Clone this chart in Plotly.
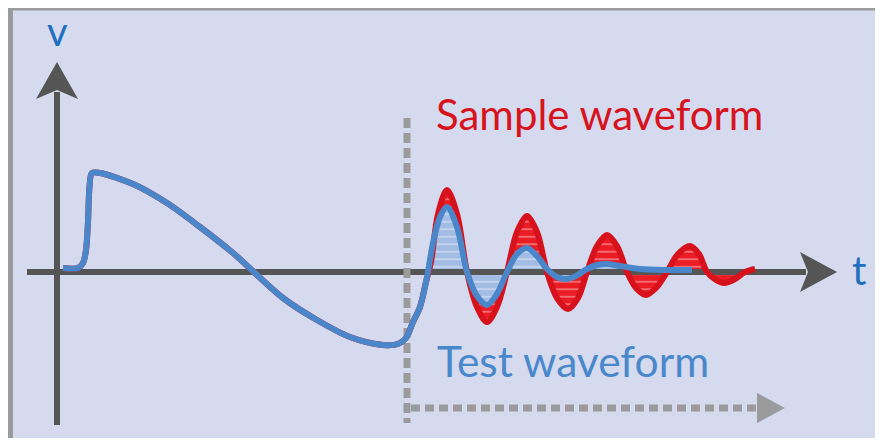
import numpy as np
import plotly.graph_objects as go

# shared start of both waveforms (t, v), v = 0 on the time axis
t_shared = [63, 78, 83, 86, 88, 89.5, 92, 100, 133, 167, 200, 233, 283, 317, 350, 383, 398, 406, 413, 420]
v_shared = [4, 4, 9, 22, 50, 85, 99, 99, 88, 69, 45, 19, -26, -48, -65, -73, -72, -66, -50, -35]

# sample waveform (red) after the trigger
t_sample = [426, 431, 438, 447, 457, 467, 477, 487, 497, 507, 517, 527, 537, 547, 557, 568, 578, 587,
            597, 607, 617, 627, 636, 646, 656, 667, 678, 690, 699, 707, 716, 724, 735, 745, 755]
v_sample = [-10, 10, 58, 82, 58, 0, -35, -50, -35, 0, 40, 56, 40, 0, -26, -37, -26, 0,
            26, 37, 26, 0, -16, -23, -16, 0, 18, 26, 18, 0, -8, -11, -7, 0, 3]

# test waveform (blue) after the trigger
t_test = [427, 433, 440, 447, 457, 467, 477, 487, 497, 507, 517, 527, 537, 547, 557, 566, 576, 587,
          597, 607, 620, 640, 665, 692]
v_test = [-5, 29, 55, 65, 45, 0, -24, -33, -22, 0, 18, 24, 16, 3, -5, -7, -4, 3,
          7, 8, 6, 3, 2, 2]

RED_LINE = "#D8121C"
RED_FILL = "#EA1C24"
BLUE_LINE = "#4A86CA"
BLUE_FILL = "#A2BCE4"
AXIS = "#555555"
GUIDE = "#9B9B9D"
PANEL = "#D5DAEE"

# the page body keeps an 8px margin, so the figure starts at (8, 8)
OFFSET = 8
W, H = 883 - OFFSET, 446 - 2 * OFFSET


def py(y_px):
    # picture rows -> v units (time axis sits on row 272)
    return 272 - y_px


red_t = np.array(t_shared + t_sample)
red_v = np.array(v_shared + v_sample)
blue_t = np.array(t_shared + t_test)
blue_v = np.array(v_shared + v_test)

red_mask = red_t >= 431
blue_mask = blue_t >= 427

fig = go.Figure()

# filled areas between waveform and axis
fig.add_trace(go.Scatter(
    x=np.r_[430, red_t[red_mask]], y=np.r_[0, red_v[red_mask]], mode="lines",
    line=dict(width=0, shape="spline", smoothing=0.9), fill="tozeroy",
    fillpattern=dict(shape="-", bgcolor=RED_FILL, fgcolor="white", size=7.5, solidity=0.18),
    hoverinfo="skip"))
fig.add_trace(go.Scatter(
    x=np.r_[428, blue_t[blue_mask]], y=np.r_[0, blue_v[blue_mask]], mode="lines",
    line=dict(width=0, shape="spline", smoothing=0.9), fill="tozeroy",
    fillpattern=dict(shape="-", bgcolor=BLUE_FILL, fgcolor="white", size=7.5, solidity=0.18),
    hoverinfo="skip"))

# time axis and trigger line (drawn over the fills, under the curves)
fig.add_trace(go.Scatter(x=[27, 806], y=[0, 0], mode="lines",
                         line=dict(color=AXIS, width=6), hoverinfo="skip"))
fig.add_trace(go.Scatter(x=[407, 407], y=[py(118), py(423)], mode="lines",
                         line=dict(color=GUIDE, width=7, dash="10px,5px"), hoverinfo="skip"))
fig.add_trace(go.Scatter(x=[411, 760], y=[py(408), py(408)], mode="lines",
                         line=dict(color=GUIDE, width=7, dash="9px,5px"), hoverinfo="skip"))

# waveforms
fig.add_trace(go.Scatter(x=red_t, y=red_v, mode="lines",
                         line=dict(color=RED_LINE, width=6, shape="spline", smoothing=0.9),
                         hoverinfo="skip"))
fig.add_trace(go.Scatter(x=blue_t, y=blue_v, mode="lines",
                         line=dict(color=BLUE_LINE, width=6, shape="spline", smoothing=0.9),
                         hoverinfo="skip"))


def arrow_path(tip_x, tip_y, back, half, notch, vertical=False):
    if vertical:
        return (f"M{tip_x},{tip_y} L{tip_x + half},{tip_y - back} L{tip_x},{tip_y - notch} "
                f"L{tip_x - half},{tip_y - back} Z")
    return (f"M{tip_x},{tip_y} L{tip_x - back},{tip_y + half} L{tip_x - notch},{tip_y} "
            f"L{tip_x - back},{tip_y - half} Z")


shapes = [
    dict(type="rect", xref="x", yref="y", x0=0, x1=900, y0=py(460), y1=py(0),
         fillcolor=GUIDE, line=dict(width=0), layer="below"),
    dict(type="rect", xref="x", yref="y", x0=13, x1=900, y0=py(460), y1=py(10.5),
         fillcolor=PANEL, line=dict(width=0), layer="below"),
    dict(type="line", xref="x", yref="y", x0=57, x1=57, y0=py(425), y1=py(92),
         line=dict(color=AXIS, width=6), layer="below"),
    dict(type="path", xref="x", yref="y", path=arrow_path(57, py(62), 37, 21, 28, vertical=True),
         fillcolor=AXIS, line=dict(width=0)),
    dict(type="path", xref="x", yref="y", path=arrow_path(837, 0, 37, 20, 29),
         fillcolor=AXIS, line=dict(width=0)),
    dict(type="path", xref="x", yref="y", path=arrow_path(785, py(408), 28, 15, 28),
         fillcolor=GUIDE, line=dict(width=0)),
]

annotations = [
    dict(x=57, y=py(31), text="v", showarrow=False, xanchor="center", yanchor="middle",
         font=dict(family="Lato", size=40, color="#1F6FC0")),
    dict(x=850, y=py(270), text="t", showarrow=False, xanchor="left", yanchor="middle",
         font=dict(family="Lato", size=40, color="#1F6FC0")),
    dict(x=434, y=py(114), text="Sample waveform", showarrow=False, xanchor="left", yanchor="middle",
         font=dict(family="Lato", size=42, color="#D7141E")),
    dict(x=435, y=py(360), text="Test waveform", showarrow=False, xanchor="left", yanchor="middle",
         font=dict(family="Lato", size=42.5, color="#4A88CC")),
]

fig.update_layout(
    width=W, height=H,
    margin=dict(l=0, r=0, t=0, b=0),
    paper_bgcolor="white", plot_bgcolor="white",
    showlegend=False,
    xaxis=dict(range=[OFFSET, OFFSET + W], visible=False, fixedrange=True),
    yaxis=dict(range=[py(OFFSET + H), py(OFFSET)], visible=False, fixedrange=True),
    shapes=shapes,
    annotations=annotations,
)

fig.write_html("out.html")
